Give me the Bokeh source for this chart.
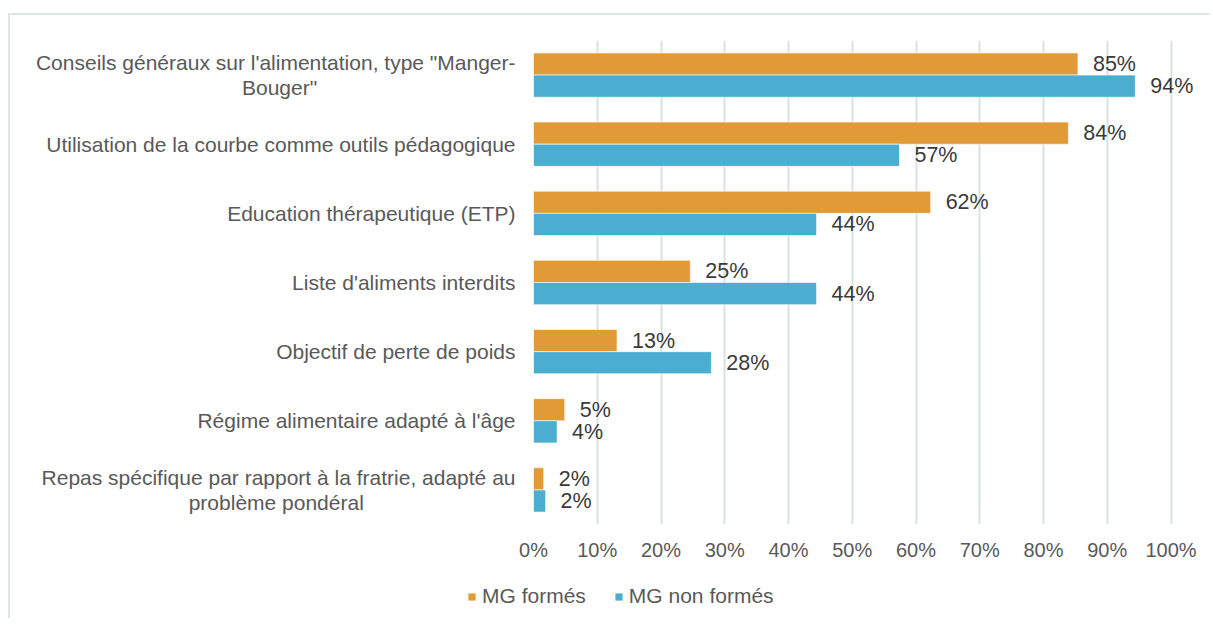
import numpy as np
from bokeh.plotting import figure
from bokeh.layouts import column
from bokeh.models import ColumnDataSource, FactorRange, Legend, LegendItem, FixedTicker, CustomJSTickFormatter
from bokeh.transform import dodge
from bokeh.embed import file_html
from bokeh.resources import INLINE
from bokeh.core.properties import value

NB = "\u00a0"
categories = [
    "Conseils généraux sur l'alimentation, type \"Manger-\nBouger\"" + NB * 34,
    "Utilisation de la courbe comme outils pédagogique",
    "Education thérapeutique (ETP)",
    "Liste d'aliments interdits",
    "Objectif de perte de poids",
    "Régime alimentaire adapté à l'âge",
    "Repas spécifique par rapport à la fratrie, adapté au\nproblème pondéral" + NB * 26,
]
mg_formes = [85.4, 83.9, 62.3, 24.6, 13.1, 4.9, 1.6]
mg_non_formes = [94.4, 57.4, 44.4, 44.4, 27.9, 3.7, 1.9]
series_names = ["MG formés", "MG non formés"]
x_ticks = [0, 10, 20, 30, 40, 50, 60, 70, 80, 90, 100]

ORANGE = "#E09A36"
BLUE = "#4BADD0"
GRID = "#D8E3DF"
TXT = "#595959"
LBL = "#3A3A3A"
FONT = "Liberation Sans"

src = ColumnDataSource(dict(
    cat=categories,
    a=mg_formes,
    b=mg_non_formes,
    a_lbl=[f"{round(v)}%" for v in mg_formes],
    b_lbl=[f"{round(v)}%" for v in mg_non_formes],
))

W = 1200
p = figure(
    width=W, height=559,
    y_range=FactorRange(*list(reversed(categories)), range_padding=0),
    x_range=(0, 104),
    output_backend="svg", toolbar_location=None,
    min_border_left=523, min_border_right=14, min_border_top=25, min_border_bottom=50,
)
p.frame_align = False

p.hbar(y=dodge("cat", 0.16, range=p.y_range), right="a", left=0, height=0.32, source=src,
       fill_color=ORANGE, line_color="white", line_alpha=0.6, line_width=1)
p.hbar(y=dodge("cat", -0.16, range=p.y_range), right="b", left=0, height=0.32, source=src,
       fill_color=BLUE, line_color="white", line_alpha=0.6, line_width=1)

p.text(x="a", y=dodge("cat", 0.16, range=p.y_range), text="a_lbl", source=src, x_offset=15,
       text_baseline="middle", text_align="left", text_font=value(FONT), text_font_size="21.5px", text_color=LBL)
p.text(x="b", y=dodge("cat", -0.16, range=p.y_range), text="b_lbl", source=src, x_offset=15,
       text_baseline="middle", text_align="left", text_font=value(FONT), text_font_size="21.5px", text_color=LBL)

p.outline_line_color = None
p.ygrid.grid_line_color = None
p.xgrid.grid_line_color = GRID
p.xgrid.grid_line_width = 2
p.xaxis.ticker = FixedTicker(ticks=x_ticks)
p.xaxis.formatter = CustomJSTickFormatter(code="return tick + '%'")
for ax in (p.xaxis[0], p.yaxis[0]):
    ax.axis_line_color = None
    ax.major_tick_line_color = None
    ax.minor_tick_line_color = None
    ax.major_tick_out = 0
    ax.major_tick_in = 0
    ax.major_label_text_font = FONT
    ax.major_label_text_color = TXT
p.xaxis.major_label_text_font_size = "20px"
p.yaxis.major_label_text_font_size = "21px"
p.yaxis.major_label_text_line_height = 1.1
p.xaxis.major_label_standoff = 14
p.yaxis.major_label_standoff = 18

# legend strip below the chart (legend-only renderers hold no drawable values)
lg = figure(width=W, height=44, x_range=(0, 1), y_range=(0, 1),
            x_axis_location=None, y_axis_location=None,
            output_backend="svg", toolbar_location=None,
            min_border_left=0, min_border_right=0, min_border_top=0, min_border_bottom=0)
lg.frame_align = False
lg.outline_line_color = None
lg.grid.grid_line_color = None
blank = ColumnDataSource(dict(y=np.array([np.nan]), r=np.array([np.nan])))
da = lg.hbar(y="y", right="r", left=0, height=0.5, source=blank, fill_color=ORANGE, line_color=None)
db = lg.hbar(y="y", right="r", left=0, height=0.5, source=blank, fill_color=BLUE, line_color=None)
legend = Legend(items=[LegendItem(label=series_names[0], renderers=[da]),
                       LegendItem(label=series_names[1], renderers=[db])],
                orientation="horizontal", location=(457, 10),
                label_text_font=FONT, label_text_font_size="21px", label_text_color=TXT,
                glyph_width=9, glyph_height=9, spacing=28, label_standoff=6,
                padding=0, margin=0,
                background_fill_alpha=0, border_line_color=None)
lg.add_layout(legend, "center")

layout = column(p, lg, spacing=0)
layout.styles = {"border-top": "2px solid #DCE6E2", "border-left": "2px solid #DCE6E2",
                 "margin-top": "13px", "margin-left": "8px"}

open("out.html", "w").write(file_html(layout, INLINE))
